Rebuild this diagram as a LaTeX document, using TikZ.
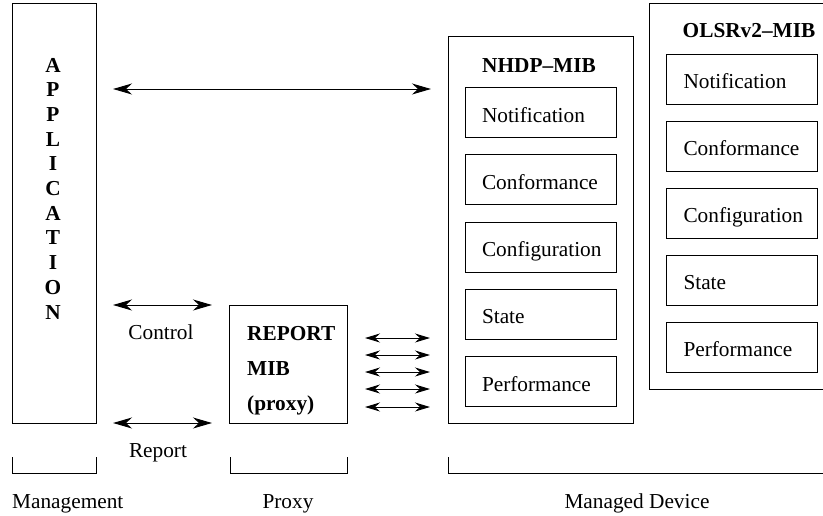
\documentclass[tikz,border=0pt]{standalone}
\usepackage{fontspec}
\setmainfont{Liberation Serif}
\usetikzlibrary{arrows.meta}
\begin{document}
\begin{tikzpicture}[x=1pt,y=-1pt,
  every node/.style={font=\fontsize{21.3}{24.7}\selectfont, inner sep=0pt},
  frame/.style={draw, line width=1pt},
  part/.style={draw, line width=1pt, minimum height=50pt, text width=117pt, inner xsep=17pt,
    align=left, text height=19pt, text depth=0pt, anchor=west},
  bold/.style={font=\fontsize{21.3}{24.7}\selectfont\bfseries},
  link/.style={line width=1pt, {Stealth[length=19pt,width=11pt,inset=6pt]}-{Stealth[length=19pt,width=11pt,inset=6pt]}},
  small/.style={line width=1pt, {Stealth[length=15pt,width=9pt,inset=5pt]}-{Stealth[length=15pt,width=9pt,inset=5pt]}},
  brace/.style={line width=1pt}]
\useasboundingbox (0,0) rectangle (823,515);

% Application
\draw[frame] (12,3) rectangle (96,423);
\node[bold, align=center] (app) at (53,188.5) {A\\P\\P\\L\\I\\C\\A\\T\\I\\O\\N};

% NHDP-MIB
\draw[frame] (448,36) rectangle (633,423);
\node[bold, anchor=base] (nhdp) at (539,72) {NHDP\textendash MIB};
\foreach \t [count=\i from 0] in {Notification,Conformance,Configuration,State,Performance}
  \node[part] (n\i) at (464.5,112.5+67.25*\i) {\t};

% OLSRv2-MIB
\draw[frame] (649,3) -- (649,389) -- (833,389) (649,3) -- (833,3);
\node[bold, anchor=base] (olsr) at (749,37) {OLSRv2\textendash MIB};
\foreach \t [count=\i from 0] in {Notification,Conformance,Configuration,State,Performance}
  \node[part] (o\i) at (666,79+67*\i) {\t};

% Report MIB proxy
\draw[frame] (229,305) rectangle (347,423);
\node[bold, anchor=base west] (r1) at (247,340) {REPORT};
\node[bold, anchor=base west] (r2) at (247,375) {MIB};
\node[bold, anchor=base west] (r3) at (247,410) {(proxy)};

% arrows
\coordinate (t1) at (113,89); \coordinate (t2) at (431,89);
\draw[link] (t1) -- (t2);
\coordinate (c1) at (113,305); \coordinate (c2) at (212,305);
\draw[link] (c1) -- (c2);
\node[anchor=base] (ctl) at (161,339) {Control};
\coordinate (p1) at (113,423); \coordinate (p2) at (212,423);
\draw[link] (p1) -- (p2);
\node[anchor=base] (rep) at (158,457) {Report};
\foreach \y [count=\i] in {338,355,372,389,407}{
  \coordinate (s\i a) at (365,\y); \coordinate (s\i b) at (430,\y);
  \draw[small] (s\i a) -- (s\i b);
}

% brackets
\draw[brace] (12,457) -- (12,473) -- (96,473) -- (96,457);
\draw[brace] (230,457) -- (230,473) -- (347,473) -- (347,457);
\draw[brace] (448,457) -- (448,473) -- (833,473) -- (833,457);
\node[anchor=base west] (mg) at (12,508) {Management};
\node[anchor=base] (px) at (288,508) {Proxy};
\node[anchor=base] (md) at (637,508) {Managed Device};
\end{tikzpicture}
\end{document}
